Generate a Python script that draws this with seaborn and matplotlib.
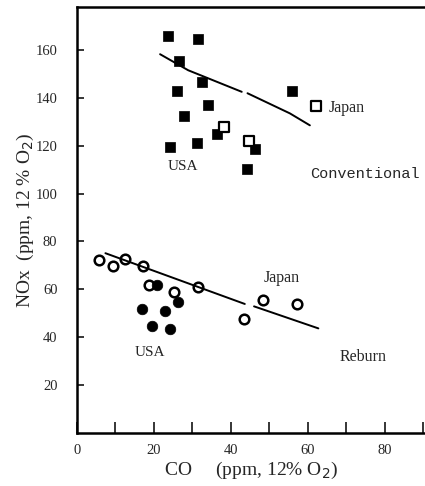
import matplotlib as mpl
from matplotlib import pyplot as plt
from matplotlib.ticker import MultipleLocator
import numpy as np
import seaborn as sb

sb.set_style("white")
mpl.rcParams["font.family"] = ["Liberation Serif", "DejaVu Serif"]

# conventional combustion (squares)
conv_usa_co = [23.7, 31.5, 26.5, 32.6, 26.1, 34.1, 27.9, 36.5, 24.3, 31.1, 46.2, 44.2, 55.8]
conv_usa_nox = [165.7, 164.5, 155.5, 146.5, 142.7, 136.9, 132.3, 124.8, 119.4, 121.0, 118.6, 110.3, 142.7]
conv_jp_co = [38.3, 44.8, 62.1]
conv_jp_nox = [127.7, 122.0, 136.6]
conv_fit1_co = [21.6, 28.9, 42.8]
conv_fit1_nox = [158.2, 151.5, 142.5]
conv_fit2_co = [44.3, 55.3, 60.5]
conv_fit2_nox = [141.9, 133.5, 128.5]

# reburn (circles)
reb_jp_co = [5.8, 9.4, 12.5, 17.1, 18.8, 25.2, 31.5, 43.5, 48.2, 57.2]
reb_jp_nox = [72.3, 69.7, 72.5, 69.7, 61.9, 59.1, 60.9, 47.6, 55.6, 53.9]
reb_usa_co = [20.9, 16.8, 22.9, 26.2, 19.4, 24.2]
reb_usa_nox = [61.9, 51.8, 51.1, 54.9, 44.5, 43.4]
reb_fit1_co = [7.4, 43.6]
reb_fit1_nox = [75.1, 53.9]
reb_fit2_co = [46.0, 62.7]
reb_fit2_nox = [52.9, 43.7]

fig = plt.figure(figsize=(4.25, 4.86), dpi=100)
ax1 = fig.add_axes([0.181, 0.109, 0.819, 0.877])

for xs, ys in [(conv_fit1_co, conv_fit1_nox), (conv_fit2_co, conv_fit2_nox),
               (reb_fit1_co, reb_fit1_nox), (reb_fit2_co, reb_fit2_nox)]:
    sb.lineplot(x=xs, y=ys, sort=False, color="black", linewidth=1.4, ax=ax1)

sb.scatterplot(x=conv_usa_co, y=conv_usa_nox, marker="s", s=58, color="black",
               edgecolor="black", linewidth=0.5, ax=ax1)
sb.scatterplot(x=conv_jp_co, y=conv_jp_nox, marker="s", s=45, facecolor="white",
               edgecolor="black", linewidth=1.6, ax=ax1)
sb.scatterplot(x=reb_jp_co, y=reb_jp_nox, marker="o", s=48, facecolor="white",
               edgecolor="black", linewidth=1.8, ax=ax1)
sb.scatterplot(x=reb_usa_co, y=reb_usa_nox, marker="o", s=58, color="black",
               edgecolor="black", linewidth=0.5, ax=ax1)

ax1.text(27.6, 111.1, "USA", ha="center", va="center", fontsize=11)
ax1.text(65.3, 135.6, "Japan", ha="left", va="center", fontsize=11.5)
ax1.text(74.8, 108.1, "Conventional", ha="center", va="center", fontsize=11,
         family=["Liberation Mono", "DejaVu Sans Mono"])
ax1.text(53.2, 64.6, "Japan", ha="center", va="center", fontsize=11.5)
ax1.text(19.0, 33.7, "USA", ha="center", va="center", fontsize=11)
ax1.text(74.2, 31.6, "Reburn", ha="center", va="center", fontsize=11.5)

ax1.set_xlim(0, 90.4)
ax1.set_ylim(0, 178)
ax1.xaxis.set_major_locator(MultipleLocator(20))
ax1.xaxis.set_minor_locator(MultipleLocator(10))
ax1.set_xticks([0, 20, 40, 60, 80])
ax1.set_yticks([20, 40, 60, 80, 100, 120, 140, 160])
ax1.tick_params(axis="x", which="both", direction="in", length=8, width=1.3,
                pad=8, labelsize=10.5)
ax1.tick_params(axis="y", direction="in", length=5, width=1.3, pad=14, labelsize=10.5)
ax1.tick_params(left=True, bottom=True)
ax1.tick_params(axis="x", which="minor", bottom=True)

for side in ["left", "bottom", "top"]:
    ax1.spines[side].set_linewidth(1.8)
    ax1.spines[side].set_color("black")
ax1.spines["right"].set_visible(False)

ax1.set_xlabel("CO     (ppm, 12% O$_2$)", fontsize=14, labelpad=2)
ax1.set_ylabel("NOx  (ppm, 12 % O$_2$)", fontsize=14, labelpad=0)

fig.savefig("out.png", format="png", dpi=100)
